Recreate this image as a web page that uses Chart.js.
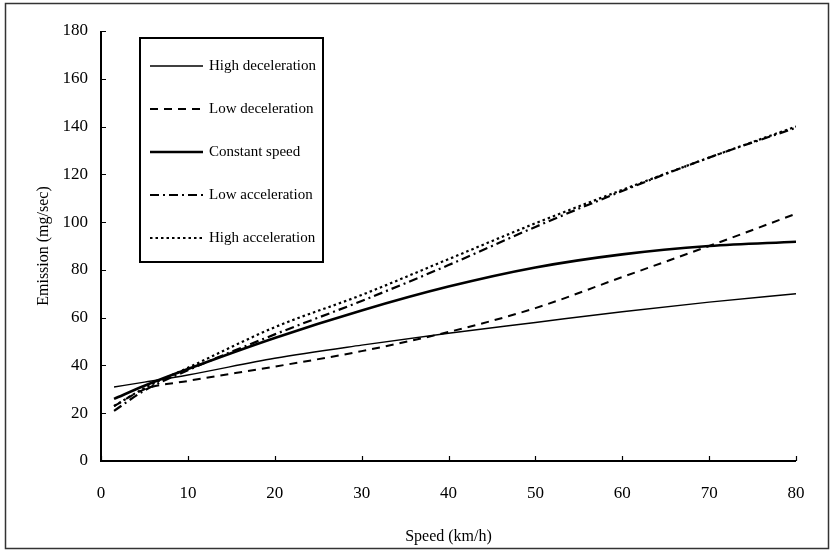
<!DOCTYPE html>
<html>
<head>
<meta charset="utf-8">
<script src="https://cdn.jsdelivr.net/npm/chart.js@4/dist/chart.umd.min.js"></script>
<style>
  html, body { margin: 0; padding: 0; background: #fff; }
  #wrap { width: 831px; height: 551px; }
</style>
</head>
<body>
<div id="wrap"><canvas id="chart" width="831" height="551"></canvas></div>
<script>
// --- DATA ---
const speeds = [1.5, 5, 10, 20, 30, 40, 50, 60, 70, 80];
const highDecel = [31, 33, 36, 43, 48.5, 53.5, 58, 62.5, 66.5, 70];
const lowDecel = [23, 30, 33.5, 39.5, 46, 54, 64, 77, 90, 103.5];
const constantSpeed = [26, 31.5, 38.5, 51.5, 63, 73, 81, 86.5, 90, 91.8];
const lowAccel = [21, 29.5, 38, 53, 67, 82, 98, 113, 127, 139.5];
const highAccel = [23, 30.5, 39, 56, 69.5, 84.5, 99.5, 113.5, 127, 140];

const seriesNames = ["High deceleration", "Low deceleration", "Constant speed", "Low acceleration", "High acceleration"];
const xTicks = [0, 10, 20, 30, 40, 50, 60, 70, 80];
const yTicks = [0, 20, 40, 60, 80, 100, 120, 140, 160, 180];

const SERIF = "'Liberation Serif', 'DejaVu Serif', serif";

function pts(vals) {
  return speeds.map((s, i) => ({ x: s, y: vals[i] }));
}

const styles = [
  { borderWidth: 1.4, borderDash: [] },
  { borderWidth: 2, borderDash: [8, 6] },
  { borderWidth: 2.6, borderDash: [] },
  { borderWidth: 2.2, borderDash: [9, 4, 2, 4] },
  { borderWidth: 2.2, borderDash: [2.5, 3] },
];

const allVals = [highDecel, lowDecel, constantSpeed, lowAccel, highAccel];

const datasets = allVals.map((v, i) => ({
  label: seriesNames[i],
  data: pts(v),
  borderColor: "#000",
  backgroundColor: "#000",
  borderWidth: styles[i].borderWidth,
  borderDash: styles[i].borderDash,
  pointRadius: 0,
  fill: false,
  cubicInterpolationMode: "monotone",
}));

// --- PLUGINS ---
// axis lines with inward ticks, old-school plot style
const axesPlugin = {
  id: "axesPlugin",
  afterDatasetsDraw(chart) {
    const { ctx, scales: { x, y } } = chart;
    const x0 = x.getPixelForValue(0);
    const x1 = x.getPixelForValue(80);
    const y0 = y.getPixelForValue(0);
    const y1 = y.getPixelForValue(180);
    ctx.save();
    ctx.strokeStyle = "#000";
    ctx.lineWidth = 2;
    ctx.beginPath();
    ctx.moveTo(x0, y1);
    ctx.lineTo(x0, y0);
    ctx.lineTo(x1, y0);
    ctx.stroke();
    ctx.lineWidth = 1.2;
    ctx.beginPath();
    yTicks.forEach((t) => {
      const py = Math.round(y.getPixelForValue(t)) + 0.5;
      ctx.moveTo(x0, py);
      ctx.lineTo(x0 + 5, py);
    });
    xTicks.forEach((t) => {
      const px = Math.round(x.getPixelForValue(t)) + 0.5;
      ctx.moveTo(px, y0);
      ctx.lineTo(px, y0 - 5);
    });
    ctx.stroke();
    ctx.restore();
  },
};

const legendPlugin = {
  id: "boxLegend",
  afterDraw(chart) {
    const ctx = chart.ctx;
    const bx = 140, by = 38, bw = 183, bh = 224;
    ctx.save();
    ctx.fillStyle = "#fff";
    ctx.fillRect(bx, by, bw, bh);
    ctx.strokeStyle = "#000";
    ctx.lineWidth = 2;
    ctx.strokeRect(bx, by, bw, bh);
    ctx.font = "15px " + SERIF;
    ctx.textBaseline = "middle";
    ctx.fillStyle = "#000";
    chart.data.datasets.forEach((ds, i) => {
      const yy = 66 + i * 43;
      ctx.beginPath();
      ctx.lineWidth = ds.borderWidth;
      ctx.setLineDash(ds.borderDash);
      ctx.moveTo(150, yy);
      ctx.lineTo(203, yy);
      ctx.stroke();
      ctx.setLineDash([]);
      ctx.fillText(ds.label, 209, yy);
    });
    ctx.restore();
  },
};

const framePlugin = {
  id: "frame",
  afterDraw(chart) {
    const ctx = chart.ctx;
    ctx.save();
    ctx.strokeStyle = "#333";
    ctx.lineWidth = 1.5;
    ctx.strokeRect(5.5, 3.5, 823, 545);
    ctx.restore();
  },
};

// --- CHART ---
new Chart(document.getElementById("chart"), {
  type: "line",
  data: { datasets },
  plugins: [axesPlugin, legendPlugin, framePlugin],
  options: {
    responsive: false,
    animation: false,
    devicePixelRatio: 1,
    layout: { padding: { top: 31, right: 35, left: 0, bottom: 0 } },
    plugins: { legend: { display: false }, tooltip: { enabled: false } },
    scales: {
      x: {
        type: "linear",
        min: 0,
        max: 80,
        grid: { display: false, drawTicks: false },
        border: { display: false },
        afterBuildTicks: (s) => { s.ticks = xTicks.map((v) => ({ value: v })); },
        ticks: { color: "#000", font: { family: SERIF, size: 17 }, padding: 22, maxRotation: 0 },
        title: { display: true, text: "Speed (km/h)", color: "#000", font: { family: SERIF, size: 16 }, padding: { top: 5, bottom: 5 } },
        afterFit: (s) => { s.height = 90; },
      },
      y: {
        type: "linear",
        min: 0,
        max: 180,
        grid: { display: false, drawTicks: false },
        border: { display: false },
        afterBuildTicks: (s) => { s.ticks = yTicks.map((v) => ({ value: v })); },
        ticks: { color: "#000", font: { family: SERIF, size: 17 }, padding: 13 },
        title: { display: true, text: "Emission (mg/sec)", color: "#000", font: { family: SERIF, size: 16 }, padding: { top: 34, bottom: 34 } },
        afterFit: (s) => { s.width = 101; },
      },
    },
  },
});
</script>
</body>
</html>
